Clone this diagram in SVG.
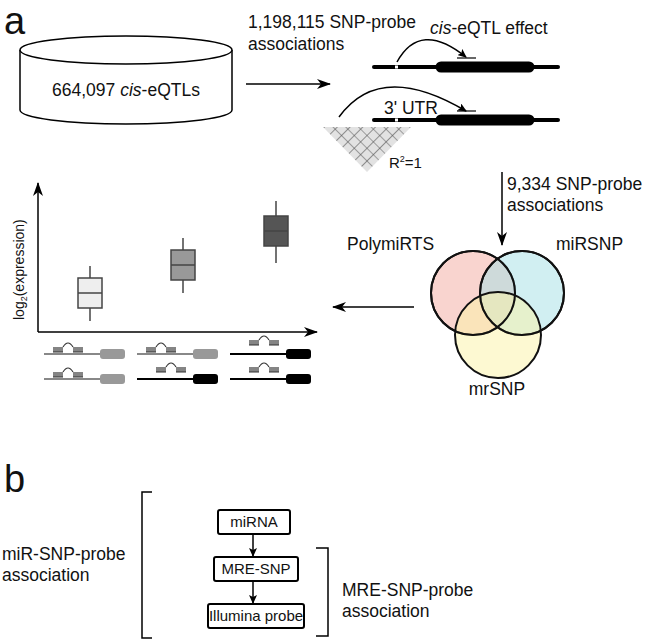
<svg xmlns="http://www.w3.org/2000/svg" width="659" height="641" viewBox="0 0 659 641">
<style>
text{font-family:"Liberation Sans",Arial,sans-serif;fill:#111}
.t{font-size:17.5px}
.bt{font-size:15px}
.big{font-size:38px}
.ln{stroke:#000;stroke-width:1.5;fill:none}
.gene{stroke:#000;stroke-width:4;stroke-linecap:round}
.exon{stroke:#000;stroke-width:11;stroke-linecap:round}
.bx{fill:#fff;stroke:#000;stroke-width:2}
.cir{stroke:#111;stroke-width:2}
</style>
<defs>
<marker id="ah" markerWidth="14" markerHeight="10" refX="13" refY="5" orient="auto" markerUnits="userSpaceOnUse"><path d="M0,0 L14,5 L0,10 L4,5z" fill="#000"/></marker>
<marker id="sm" markerWidth="9" markerHeight="8" refX="8" refY="4" orient="auto" markerUnits="userSpaceOnUse"><path d="M0,0 L9,4 L0,8 L2,4z" fill="#000"/></marker>
<pattern id="grid" width="9" height="9" patternUnits="userSpaceOnUse" patternTransform="translate(367,173) rotate(45)"><rect width="9" height="9" fill="#e2e2e2"/><path d="M0,0 H9 M0,0 V9" stroke="#555" stroke-width="1.2"/></pattern>
<clipPath id="tri"><polygon points="323,127 411,127 367,172"/></clipPath>
<path id="mir" fill="none" stroke="#333" stroke-width="1.2" d="M0,0 h10 M1,0 v-5 M3,0 v-5 M5,0 v-5 M7,0 v-5 M9,0 v-5 M10,-5 q5,-8 10,0 M20,0 h10 M21,0 v-5 M23,0 v-5 M25,0 v-5 M27,0 v-5 M29,0 v-5"/>
</defs>
<rect width="659" height="641" fill="#fff"/>
<text class="big" x="4" y="34">a</text>
<text class="big" x="4" y="492">b</text>

<g id="cylinder">
<path d="M20,50 L20,110 A106,14 0 0 0 232,110 L232,50" fill="#fff" stroke="#000" stroke-width="1.5"/>
<ellipse cx="126" cy="50" rx="106" ry="14" fill="#fff" stroke="#000" stroke-width="1.5"/>
<text class="t" x="126" y="96" text-anchor="middle">664,097 <tspan font-style="italic">cis</tspan>-eQTLs</text>
</g>

<g id="genes">
<text class="t" x="248" y="28">1,198,115 SNP-probe</text>
<text class="t" x="248" y="50">associations</text>
<text class="t" x="430" y="34"><tspan font-style="italic">cis</tspan>-eQTL effect</text>
<line class="gene" x1="374" y1="67" x2="558" y2="67"/>
<line class="exon" x1="441" y1="67" x2="529" y2="67"/>
<rect x="395" y="65.5" width="3" height="3" fill="#fff"/>
<line x1="457" y1="58" x2="476" y2="58" stroke="#000" stroke-width="1.2"/>
<path class="ln" d="M397,62 Q420,20 466,57" stroke-width="1.2" marker-end="url(#sm)"/>
<line class="gene" x1="374" y1="120" x2="558" y2="120"/>
<line class="exon" x1="441" y1="120" x2="529" y2="120"/>
<rect x="395" y="118.5" width="3" height="3" fill="#fff"/>
<line x1="457" y1="111" x2="476" y2="111" stroke="#000" stroke-width="1.2"/>
<text class="t" x="384" y="114">3' UTR</text>
<path class="ln" d="M339,117 Q380,60 466,111" stroke-width="1.2" marker-end="url(#sm)"/>
<rect x="320" y="120" width="95" height="56" fill="url(#grid)" clip-path="url(#tri)"/>
<text x="389" y="168" font-size="15">R<tspan font-size="9" dy="-6">2</tspan><tspan dy="6">=1</tspan></text>
</g>

<g id="venn">
<circle class="cir" cx="473" cy="293" r="42" fill="#f4a9a0" fill-opacity="0.5"/>
<circle class="cir" cx="522" cy="293" r="42" fill="#a3dfe6" fill-opacity="0.5"/>
<circle class="cir" cx="498" cy="335" r="43" fill="#fbf3a6" fill-opacity="0.5"/>
<circle cx="473" cy="293" r="42" fill="none" stroke="#111" stroke-width="2"/>
<circle cx="522" cy="293" r="42" fill="none" stroke="#111" stroke-width="2"/>
<text class="t" x="347" y="250">PolymiRTS</text>
<text class="t" x="556" y="250">miRSNP</text>
<text class="t" x="497" y="395" text-anchor="middle">mrSNP</text>
<text class="t" x="507" y="190">9,334 SNP-probe</text>
<text class="t" x="507" y="211">associations</text>
</g>

<g id="plot">
<line class="ln" x1="38" y1="332" x2="38" y2="183" marker-end="url(#ah)"/>
<line class="ln" x1="38" y1="332" x2="317" y2="332" marker-end="url(#ah)"/>
<text x="24" y="320" font-size="14" transform="rotate(-90 24 320)">log<tspan font-size="9" dy="3">2</tspan><tspan dy="-3">(expression)</tspan></text>
<g stroke="#444" stroke-width="1.5">
<line x1="90" y1="266" x2="90" y2="321"/>
<rect x="78" y="278" width="24" height="30" fill="#eee"/>
<line x1="78" y1="293" x2="102" y2="293"/>
<line x1="183" y1="238" x2="183" y2="293"/>
<rect x="171" y="250" width="24" height="30" fill="#999"/>
<line x1="171" y1="265" x2="195" y2="265"/>
<line x1="276" y1="201" x2="276" y2="263"/>
<rect x="264" y="216" width="24" height="30" fill="#555"/>
<line x1="264" y1="231" x2="288" y2="231"/>
</g>
</g>

<g id="transcripts" stroke-width="2">
<g stroke="#888"><line x1="44" y1="354" x2="105" y2="354"/><line x1="44" y1="379" x2="105" y2="379"/><line x1="137" y1="354" x2="198" y2="354"/></g>
<g fill="#999"><rect x="100" y="349" width="25" height="10" rx="3"/><rect x="100" y="374" width="25" height="10" rx="3"/><rect x="193" y="349" width="25" height="10" rx="3"/></g>
<g stroke="#000"><line x1="137" y1="379" x2="198" y2="379"/><line x1="230" y1="354" x2="291" y2="354"/><line x1="230" y1="379" x2="291" y2="379"/></g>
<g fill="#000"><rect x="193" y="374" width="25" height="10" rx="3"/><rect x="286" y="349" width="25" height="10" rx="3"/><rect x="286" y="374" width="25" height="10" rx="3"/></g>
<use href="#mir" x="53" y="352"/>
<use href="#mir" x="53" y="377"/>
<use href="#mir" x="146" y="352"/>
<use href="#mir" x="156" y="372"/>
<use href="#mir" x="249" y="345"/>
<use href="#mir" x="249" y="372"/>
</g>

<g id="connectors">
<line class="ln" x1="246" y1="84" x2="330" y2="84" stroke-width="2" marker-end="url(#ah)"/>
<line class="ln" x1="502" y1="172" x2="502" y2="245" stroke-width="2" marker-end="url(#ah)"/>
<line class="ln" x1="414" y1="307" x2="333" y2="307" stroke-width="2" marker-end="url(#ah)"/>
<line class="ln" x1="253" y1="534" x2="253" y2="556" stroke-width="1.2" marker-end="url(#sm)"/>
<line class="ln" x1="253" y1="581" x2="253" y2="603" stroke-width="1.2" marker-end="url(#sm)"/>
</g>

<g id="miRNA"><rect class="bx" x="218" y="510" width="72" height="24" rx="2"/><text class="bt" x="254" y="527" text-anchor="middle">miRNA</text></g>
<g id="MRE-SNP"><rect class="bx" x="214" y="557" width="84" height="24" rx="2"/><text class="bt" x="256" y="574" text-anchor="middle">MRE-SNP</text></g>
<g id="probe"><rect class="bx" x="208" y="604" width="96" height="24" rx="2"/><text class="bt" x="256" y="621" text-anchor="middle">Illumina probe</text></g>
<g id="brackets" fill="none" stroke="#000" stroke-width="1.5">
<path d="M152,492 H142 V638 H152"/>
<path d="M316,548 H328 V636 H316"/>
</g>
<text class="t" x="2" y="560">miR-SNP-probe</text>
<text class="t" x="2" y="581">association</text>
<text class="t" x="342" y="596">MRE-SNP-probe</text>
<text class="t" x="342" y="617">association</text>
</svg>
